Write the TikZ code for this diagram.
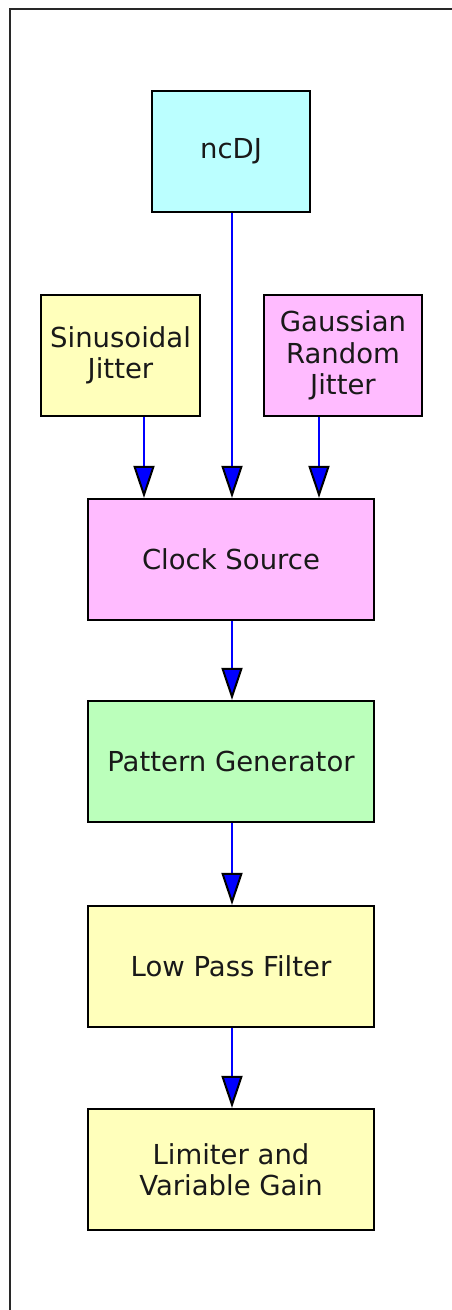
\documentclass[tikz,border=0pt]{standalone}
\usepackage{fontspec}
\setmainfont{DejaVu Sans}
\usetikzlibrary{arrows.meta}
\definecolor{bcyan}{RGB}{187,255,255}
\definecolor{byellow}{RGB}{255,255,187}
\definecolor{bpink}{RGB}{255,187,255}
\definecolor{bgreen}{RGB}{187,255,187}
\definecolor{frameclr}{RGB}{40,40,40}
\begin{document}
\begin{tikzpicture}[x=1pt,y=-1pt,
  blk/.style={draw=black, line width=2.2pt, align=center, inner sep=0pt,
    font=\fontsize{27.5}{31.5}\selectfont, text=black!90},
  small/.style={blk, minimum width=158pt, minimum height=121pt},
  wide/.style={blk, minimum width=286pt, minimum height=121pt},
  arr/.style={draw=blue, line width=2.2pt,
    -{Triangle[length=32pt,width=21pt,color=black,fill=blue,line width=2pt]}}]
\useasboundingbox (0,0) rectangle (451,1310);
\draw[frameclr, line width=2.4pt] (10,1312) -- (10,9) -- (453,9);
\node[small, fill=bcyan] (ncdj) at (231,151.5) {ncDJ};
\node[small, fill=byellow, minimum width=159pt] (sin) at (120.5,355.5) {Sinusoidal\\Jitter};
\node[small, fill=bpink] (gauss) at (343,355.5) {Gaussian\\Random\\Jitter};
\node[wide, fill=bpink] (clock) at (231,559.5) {Clock Source};
\node[wide, fill=bgreen] (pattern) at (231,761.5) {Pattern Generator};
\node[wide, fill=byellow] (lpf) at (231,966.5) {Low Pass Filter};
\node[wide, fill=byellow] (lim) at (231,1169.5) {Limiter and\\Variable Gain};
\coordinate (s1) at ([xshift=23.5pt]sin.south);
\coordinate (g1) at ([xshift=-24pt]gauss.south);
\coordinate (n1) at ([xshift=1pt]ncdj.south);
\draw[arr] (s1) -- (s1 |- clock.north);
\draw[arr] (n1) -- (n1 |- clock.north);
\draw[arr] (g1) -- (g1 |- clock.north);
\draw[arr] ([xshift=1pt]clock.south) -- ([xshift=1pt]pattern.north);
\draw[arr] ([xshift=1pt]pattern.south) -- ([xshift=1pt]lpf.north);
\draw[arr] ([xshift=1pt]lpf.south) -- ([xshift=1pt]lim.north);
\end{tikzpicture}
\end{document}
